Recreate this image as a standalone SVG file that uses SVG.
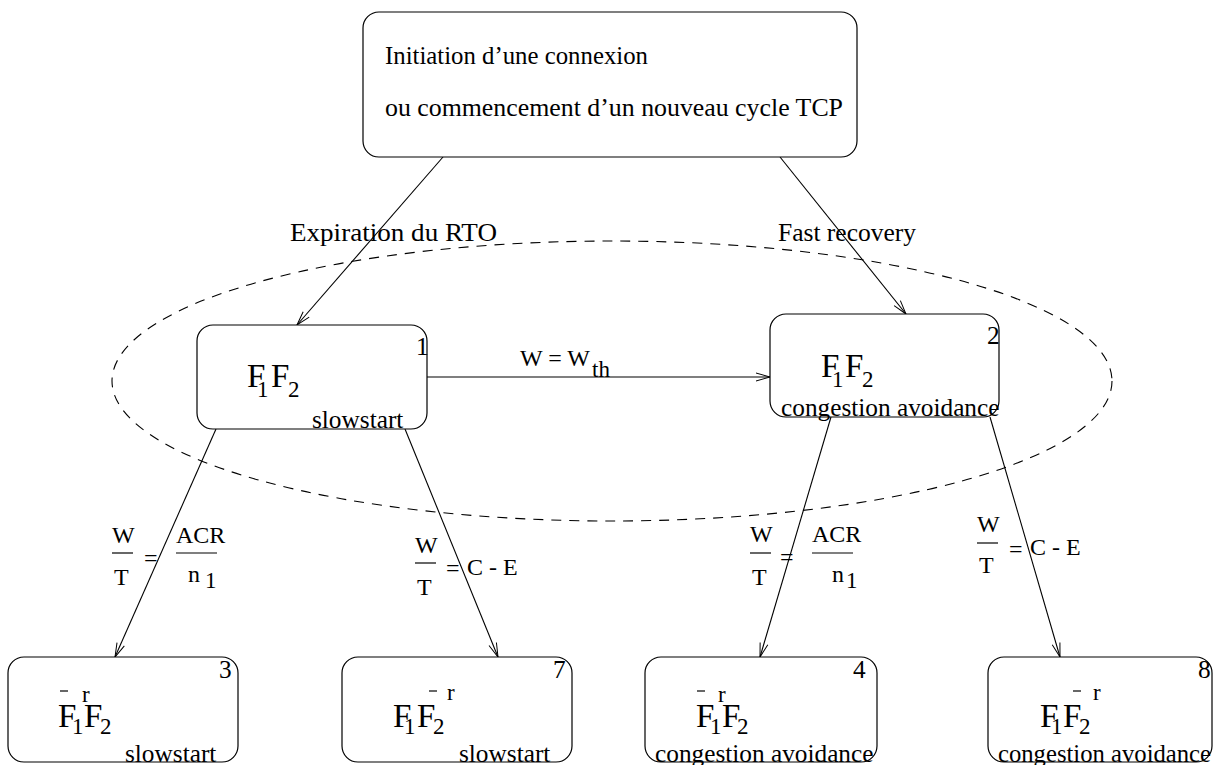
<svg xmlns="http://www.w3.org/2000/svg" width="1213" height="765" viewBox="0 0 1213 765">
  <defs>
    <marker id="arr" markerWidth="16" markerHeight="10" refX="15" refY="5" orient="auto" markerUnits="userSpaceOnUse">
      <path d="M1,1 L15,5 L1,9" fill="none" stroke="#000" stroke-width="1"/>
    </marker>
  </defs>
  <style>
    text { font-family: "Liberation Serif", "Times New Roman", serif; fill: #000; }
    .box { fill: #fff; stroke: #000; stroke-width: 1.2; }
    .t { font-size: 25.3px; }
    .f { font-size: 24px; }
    .big { font-size: 33px; }
    .sub { font-size: 23px; }
    .edge { fill: none; stroke: #000; stroke-width: 1.1; marker-end: url(#arr); }
    .bar { stroke: #000; stroke-width: 1.2; }
    .zone { fill: none; stroke: #000; stroke-width: 1.1; stroke-dasharray: 10 8; }
  </style>

  <!-- region grouping states 1 and 2 -->
  <ellipse class="zone" cx="612" cy="381" rx="500" ry="140"/>

  <!-- transitions -->
  <g id="connectors">
    <line class="edge" x1="443" y1="157" x2="297" y2="325"/>
    <line class="edge" x1="780" y1="157" x2="906" y2="314"/>
    <line class="edge" x1="427" y1="377" x2="770" y2="377"/>
    <line class="edge" x1="216" y1="429" x2="115" y2="657"/>
    <line class="edge" x1="405" y1="429" x2="498" y2="657"/>
    <line class="edge" x1="831" y1="417" x2="760" y2="657"/>
    <line class="edge" x1="990" y1="417" x2="1060" y2="657"/>

    <!-- labels -->
    <text class="t" x="290" y="241" textLength="207" lengthAdjust="spacingAndGlyphs">Expiration du RTO</text>
    <text class="t" x="778" y="241" textLength="138" lengthAdjust="spacingAndGlyphs">Fast recovery</text>
    <text class="f" x="520" y="366">W = W</text>
    <text class="sub" x="592" y="377">th</text>

    <!-- W/T = ACR/n1 (left) -->
    <text class="f" x="112" y="543">W</text>
    <line class="bar" x1="112" y1="553" x2="133" y2="553"/>
    <text class="f" x="114" y="585">T</text>
    <text class="f" x="144" y="566">=</text>
    <text class="f" x="176" y="543">ACR</text>
    <line class="bar" x1="176" y1="553" x2="217" y2="553"/>
    <text class="f" x="188" y="582">n</text>
    <text class="sub" x="205" y="588">1</text>

    <!-- W/T = C - E -->
    <text class="f" x="415" y="553">W</text>
    <line class="bar" x1="415" y1="563" x2="436" y2="563"/>
    <text class="f" x="417" y="595">T</text>
    <text class="f" x="446" y="576">=</text>
    <text class="f" x="467" y="575">C - E</text>

    <!-- W/T = ACR/n1 (right) -->
    <text class="f" x="750" y="542">W</text>
    <line class="bar" x1="750" y1="553" x2="771" y2="553"/>
    <text class="f" x="752" y="585">T</text>
    <text class="f" x="780" y="565">=</text>
    <text class="f" x="812" y="542">ACR</text>
    <line class="bar" x1="812" y1="553" x2="853" y2="553"/>
    <text class="f" x="832" y="582">n</text>
    <text class="sub" x="846" y="588">1</text>

    <!-- W/T = C - E (right) -->
    <text class="f" x="977" y="532">W</text>
    <line class="bar" x1="977" y1="543" x2="998" y2="543"/>
    <text class="f" x="979" y="573">T</text>
    <text class="f" x="1009" y="557">=</text>
    <text class="f" x="1030" y="555">C - E</text>
  </g>

  <g id="start">
    <rect class="box" x="363" y="12" width="494" height="145" rx="16"/>
    <text class="t" x="385" y="64" textLength="263" lengthAdjust="spacingAndGlyphs">Initiation d’une connexion</text>
    <text class="t" x="385" y="116" textLength="458" lengthAdjust="spacingAndGlyphs">ou commencement d’un nouveau cycle TCP</text>
  </g>

  <g id="state1">
    <rect class="box" x="197" y="325" width="230" height="104" rx="16"/>
    <text class="t" x="416" y="355">1</text>
    <text class="big" x="247" y="387">F</text>
    <text class="sub" x="257" y="397">1</text>
    <text class="big" x="271" y="387">F</text>
    <text class="sub" x="288" y="397">2</text>
    <text class="t" x="312" y="428">slowstart</text>
  </g>

  <g id="state2">
    <rect class="box" x="770" y="314" width="229" height="103" rx="16"/>
    <text class="t" x="987" y="344">2</text>
    <text class="big" x="821" y="377">F</text>
    <text class="sub" x="832" y="387">1</text>
    <text class="big" x="845" y="377">F</text>
    <text class="sub" x="862" y="387">2</text>
    <text class="t" x="781" y="416">congestion avoidance</text>
  </g>

  <g id="state3">
    <rect class="box" x="8" y="657" width="230" height="105" rx="16"/>
    <text class="t" x="219" y="678">3</text>
    <line class="bar" x1="60" y1="691" x2="68" y2="691"/>
    <text class="big" x="58" y="727">F</text>
    <text class="sub" x="72" y="734">1</text>
    <text class="sub" x="82" y="702">r</text>
    <text class="big" x="84" y="727">F</text>
    <text class="sub" x="100" y="734">2</text>
    <text class="t" x="125" y="762">slowstart</text>
  </g>

  <g id="state7">
    <rect class="box" x="342" y="657" width="230" height="105" rx="16"/>
    <text class="t" x="553" y="678">7</text>
    <text class="big" x="393" y="727">F</text>
    <text class="sub" x="404" y="734">1</text>
    <line class="bar" x1="429" y1="691" x2="437" y2="691"/>
    <text class="big" x="417" y="727">F</text>
    <text class="sub" x="433" y="734">2</text>
    <text class="sub" x="447" y="700">r</text>
    <text class="t" x="459" y="762">slowstart</text>
  </g>

  <g id="state4">
    <rect class="box" x="645" y="657" width="232" height="105" rx="16"/>
    <text class="t" x="853" y="678">4</text>
    <line class="bar" x1="697" y1="691" x2="705" y2="691"/>
    <text class="big" x="696" y="727">F</text>
    <text class="sub" x="710" y="734">1</text>
    <text class="sub" x="718" y="702">r</text>
    <text class="big" x="722" y="727">F</text>
    <text class="sub" x="737" y="734">2</text>
    <text class="t" x="655" y="762">congestion avoidance</text>
  </g>

  <g id="state8">
    <rect class="box" x="988" y="657" width="224" height="105" rx="16"/>
    <text class="t" x="1198" y="678">8</text>
    <text class="big" x="1040" y="727">F</text>
    <text class="sub" x="1051" y="734">1</text>
    <line class="bar" x1="1073" y1="691" x2="1081" y2="691"/>
    <text class="big" x="1063" y="727">F</text>
    <text class="sub" x="1079" y="734">2</text>
    <text class="sub" x="1093" y="700">r</text>
    <text class="t" x="998" y="762" textLength="213" lengthAdjust="spacingAndGlyphs">congestion avoidance</text>
  </g>
</svg>
